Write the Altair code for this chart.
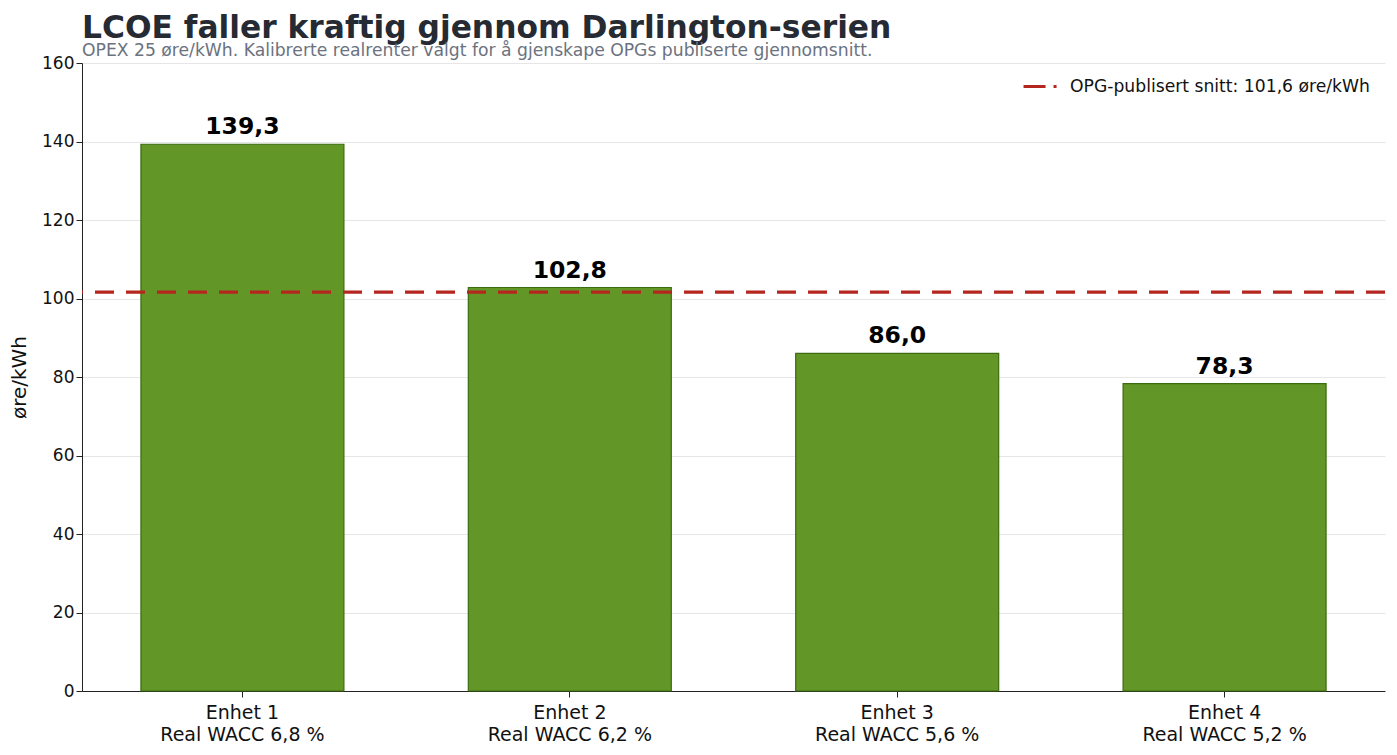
import altair as alt
import pandas as pd

units = ["Enhet 1", "Enhet 2", "Enhet 3", "Enhet 4"]
wacc = ["Real WACC 6,8 %", "Real WACC 6,2 %", "Real WACC 5,6 %", "Real WACC 5,2 %"]
lcoe = [139.3, 102.8, 86.0, 78.3]
opg_avg = [101.6]
opg_label = ["OPG-publisert snitt: 101,6 øre/kWh"]

df = pd.DataFrame({"cat": [u + "|" + w for u, w in zip(units, wacc)], "lcoe": lcoe})
ref = pd.DataFrame({"y": opg_avg, "lab": opg_label})

FONT = "DejaVu Sans"

x = alt.X("cat:N", sort=None, title=None,
          scale=alt.Scale(paddingInner=0.38, paddingOuter=0.18),
          axis=alt.Axis(labelExpr="split(datum.label, '|')", labelAngle=0,
                        labelFontSize=19, labelColor="#111111", labelPadding=6,
                        tickSize=6, tickColor="#222222", domainColor="#222222",
                        labelLineHeight=22, grid=False))

y_axis = alt.Axis(values=list(range(0, 161, 20)), labelFontSize=17, labelColor="#111111",
                  title="øre/kWh", titleFontSize=20, titleFontWeight="normal",
                  titleColor="#111111", titlePadding=12,
                  tickSize=6, tickColor="#222222", domainColor="#222222",
                  gridColor="#e6e6e6", gridWidth=1)

bars = alt.Chart(df).mark_bar(color="#629626", stroke="#3d6b10", strokeWidth=1.2).encode(
    x=x,
    y=alt.Y("lcoe:Q", scale=alt.Scale(domain=[0, 160], nice=False), axis=y_axis),
)

labels = alt.Chart(df).transform_calculate(
    t="replace(format(datum.lcoe, '.1f'), '.', ',')"
).mark_text(baseline="alphabetic", dy=-10, fontSize=23.5, fontWeight="bold",
            color="#000000", font=FONT).encode(
    x=alt.X("cat:N", sort=None),
    y=alt.Y("lcoe:Q"),
    text="t:N",
)

rule = alt.Chart(ref).mark_rule(strokeWidth=3.2, strokeDash=[19, 12]).encode(
    y="y:Q",
    color=alt.Color("lab:N", scale=alt.Scale(range=["#b5261e"]),
                    legend=alt.Legend(title=None, orient="none", legendX=940, legendY=5,
                                      symbolType="stroke",
                                      symbolStrokeWidth=3, symbolDash=[22, 8, 3, 8],
                                      symbolSize=1150, labelFontSize=17.2,
                                      labelColor="#111111", labelLimit=500,
                                      padding=0, labelOffset=11)),
)

chart = alt.layer(bars, rule, labels).properties(
    width=1303, height=628,
    padding={"left": 74, "top": 55, "right": 4, "bottom": 56},
    autosize=alt.AutoSizeParams(type="none"),
    title=alt.TitleParams(
        text="LCOE faller kraftig gjennom Darlington-serien",
        subtitle="OPEX 25 øre/kWh. Kalibrerte realrenter valgt for å gjenskape OPGs publiserte gjennomsnitt.",
        anchor="start", frame="group", fontSize=31.3, fontWeight="bold", color="#262a33",
        subtitleFontSize=17.2, subtitleColor="#6b7280", subtitleFont=FONT, font=FONT,
        offset=-5, subtitlePadding=-2,
    ),
).configure(font=FONT).configure_view(stroke=None).configure_axis(
    labelFont=FONT, titleFont=FONT
).configure_legend(labelFont=FONT)

chart.save("out.html", embed_options={"renderer": "svg", "actions": False})
